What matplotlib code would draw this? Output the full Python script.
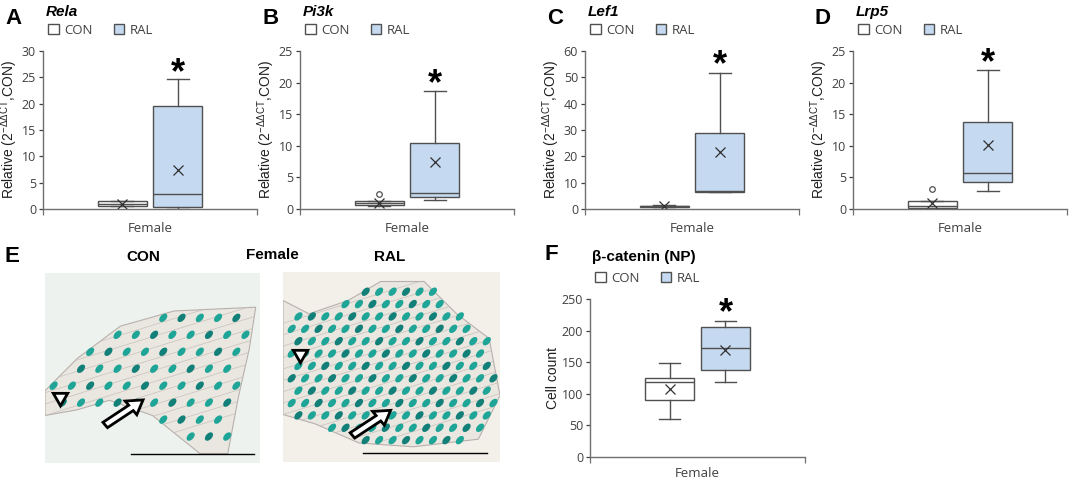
import numpy as np
import matplotlib.pyplot as plt
import matplotlib.transforms as mtrans
from matplotlib.patches import Patch, Polygon, Ellipse, FancyArrow
from matplotlib.path import Path as MPath

W, H = 1072, 483
EDGE = "#505050"
RAL_FILL = "#c5d9f1"
TXT = "#404040"

# box statistics: q1, median, q3, whisker low/high, mean, outliers
groups = ["CON", "RAL"]
panels = ["A", "B", "C", "D"]
genes = ["Rela", "Pi3k", "Lef1", "Lrp5"]
ymax = [30, 25, 60, 25]
ystep = [5, 5, 10, 5]

con_q1 = [0.6, 0.6, 0.7, 0.1]
con_med = [1.0, 0.9, 1.0, 0.4]
con_q3 = [1.5, 1.2, 1.3, 1.3]
con_lo = [0.5, 0.5, 0.6, 0.0]
con_hi = [1.6, 1.2, 1.5, 1.3]
con_mean = [1.0, 1.0, 1.0, 1.0]
con_fliers = [[], [2.3], [], [3.1]]

ral_q1 = [0.3, 1.9, 6.5, 4.2]
ral_med = [2.8, 2.5, 6.7, 5.7]
ral_q3 = [19.5, 10.5, 29.0, 13.8]
ral_lo = [0.0, 1.4, 6.5, 2.8]
ral_hi = [24.6, 18.6, 51.5, 22.0]
ral_mean = [7.5, 7.5, 21.5, 10.2]
star_y = [27.3, 21.0, 57.5, 24.2]

# panel F: beta-catenin cell counts
f_q1 = [90, 137]
f_med = [119, 172]
f_q3 = [125, 205]
f_lo = [60, 119]
f_hi = [148, 215]
f_mean = [108, 170]
f_star = 240

# top row axes left edges in pixels
ax_left = [43, 300, 585, 853]

plt.rcParams["mathtext.fontset"] = "custom"
plt.rcParams["mathtext.rm"] = "Liberation Sans"


def px_axes(x0, y0, x1, y1):
    return fig.add_axes([x0 / W, 1 - y1 / H, (x1 - x0) / W, (y1 - y0) / H])


def ftext(x, y, s, **kw):
    fig.text(x / W, 1 - y / H, s, **kw)


def make_stats(q1, med, q3, lo, hi, mean, fl):
    return dict(q1=q1, med=med, q3=q3, whislo=lo, whishi=hi, mean=mean, fliers=fl)


def draw_box(ax, stats, top, step, star, ylabel, xpad=2):
    bp = ax.bxp(stats, positions=[0.37, 0.63], widths=0.23, patch_artist=True,
                showmeans=True, showfliers=True,
                boxprops=dict(edgecolor=EDGE, linewidth=1.0),
                medianprops=dict(color=EDGE, linewidth=1.0),
                whiskerprops=dict(color=EDGE, linewidth=1.0),
                capprops=dict(color=EDGE, linewidth=1.0),
                meanprops=dict(marker="x", markeredgecolor="#303030", markersize=7, markeredgewidth=0.9),
                flierprops=dict(marker="o", markerfacecolor="white", markeredgecolor=EDGE,
                                markersize=4, markeredgewidth=0.9))
    bp["boxes"][0].set_facecolor("white")
    bp["boxes"][1].set_facecolor(RAL_FILL)
    for c in bp["caps"]:
        m = c.get_xdata().mean()
        c.set_xdata([m - 0.05, m + 0.05])
    ax.set_xlim(0, 1)
    ax.set_ylim(0, top)
    ax.set_yticks(np.arange(0, top + 1, step))
    ax.set_xticks([0, 1])
    ax.set_xticklabels([])
    ax.set_xlabel("Female", fontsize=9.5, color=TXT, family="Open Sans", labelpad=xpad)
    ax.set_ylabel(ylabel, fontsize=10, color="#202020", family="Liberation Sans", labelpad=1)
    ax.tick_params(axis="y", labelsize=9, colors=TXT, length=3, width=0.9, pad=2)
    ax.tick_params(axis="x", length=4, width=0.9, colors="#707070")
    for lab in ax.get_yticklabels():
        lab.set_family("Open Sans")
    for s in ["top", "right"]:
        ax.spines[s].set_visible(False)
    for s in ["left", "bottom"]:
        ax.spines[s].set_color("#707070")
        ax.spines[s].set_linewidth(1.0)
    # the asterisk glyph sits high in its box, so shift it down a little
    off = mtrans.offset_copy(ax.transData, fig=fig, x=0, y=-8, units="dots")
    ax.text(0.63, star, "*", ha="center", va="center", fontsize=26, fontweight="bold",
            family="Liberation Sans", transform=off)
    handles = [Patch(facecolor="white", edgecolor=EDGE, label="CON"),
               Patch(facecolor=RAL_FILL, edgecolor=EDGE, label="RAL")]
    leg = ax.legend(handles=handles, ncol=2, loc="center left", bbox_to_anchor=(-0.03, 1.13),
                    frameon=False, handlelength=0.8, handleheight=0.8, handletextpad=0.4,
                    columnspacing=1.6, prop={"family": "Open Sans", "size": 9.5})
    for t in leg.get_texts():
        t.set_color(TXT)


fig = plt.figure(figsize=(W / 100, H / 100), dpi=100)
ylab = r"Relative (2$^{\mathregular{-ΔΔCT}}$,CON)"

for i in range(4):
    ax = px_axes(ax_left[i], 51, ax_left[i] + 214, 209)
    stats = [make_stats(con_q1[i], con_med[i], con_q3[i], con_lo[i], con_hi[i], con_mean[i], con_fliers[i]),
             make_stats(ral_q1[i], ral_med[i], ral_q3[i], ral_lo[i], ral_hi[i], ral_mean[i], [])]
    draw_box(ax, stats, ymax[i], ystep[i], star_y[i], ylab)
    x0 = ax_left[i]
    ftext(x0 - 38, 18, panels[i], fontsize=16, fontweight="bold", family="Liberation Sans", va="center")
    ftext(x0 + 3, 12, genes[i], fontsize=11, fontweight="bold", style="italic",
          family="Liberation Sans", va="center")

# panel F
axf = px_axes(590, 299, 805, 457)
statsf = [make_stats(f_q1[k], f_med[k], f_q3[k], f_lo[k], f_hi[k], f_mean[k], []) for k in range(2)]
draw_box(axf, statsf, 250, 50, f_star, "Cell count", xpad=0)
ftext(545, 255, "F", fontsize=16, fontweight="bold", family="Liberation Sans", va="center")
ftext(592, 257, "β-catenin (NP)", fontsize=11, fontweight="bold", family="Liberation Sans", va="center")

# panel E: stained sections, drawn schematically
ftext(5, 257, "E", fontsize=16, fontweight="bold", family="Liberation Sans", va="center")
ftext(143, 257, "CON", fontsize=11, fontweight="bold", family="Liberation Sans", va="center", ha="center")
ftext(272, 255, "Female", fontsize=11, fontweight="bold", family="Liberation Sans", va="center", ha="center")
ftext(390, 257, "RAL", fontsize=11, fontweight="bold", family="Liberation Sans", va="center", ha="center")

con_tissue = [(0.0, 0.38), (0.15, 0.55), (0.35, 0.72), (0.6, 0.8), (0.98, 0.82), (0.95, 0.6),
              (0.9, 0.35), (0.85, 0.05), (0.72, 0.05), (0.5, 0.25), (0.3, 0.33), (0.15, 0.28), (0.0, 0.25)]
ral_tissue = [(0.0, 0.85), (0.12, 0.78), (0.3, 0.85), (0.45, 0.95), (0.65, 0.95), (0.8, 0.78),
              (0.95, 0.65), (1.0, 0.35), (0.9, 0.12), (0.6, 0.08), (0.35, 0.1), (0.15, 0.2), (0.0, 0.25)]
con_arrow = (0.28, 0.2)
ral_arrow = (0.32, 0.14)
con_tri = (0.07, 0.35)
ral_tri = (0.08, 0.57)

images = [((45, 273, 260, 463), "#edf2ef", con_tissue, 0.085, con_tri, con_arrow, (0.4, 0.97)),
          ((283, 272, 500, 462), "#f3f0ea", ral_tissue, 0.062, ral_tri, ral_arrow, (0.37, 0.94))]

for box, bg, tissue, sp, tri, arr, bar in images:
    axe = px_axes(*box)
    axe.set_xlim(0, 1)
    axe.set_ylim(0, 1)
    axe.set_facecolor(bg)
    axe.set_xticks([])
    axe.set_yticks([])
    for s in axe.spines.values():
        s.set_visible(False)
    axe.add_patch(Polygon(tissue, closed=True, facecolor="#e9e7df", edgecolor="#b9b0ad", lw=0.8))
    path = MPath(tissue)
    # fibre texture
    for k in range(14):
        yy = 0.1 + k * 0.06
        axe.plot([0.0, 1.0], [yy - 0.15, yy + 0.2], color="#c9c0bd", lw=0.5,
                 clip_path=axe.patches[0], zorder=2)
    # nuclei on a staggered lattice inside the tissue outline
    for j in range(int(1 / sp) + 1):
        for k in range(int(1 / sp) + 1):
            x = 0.04 + k * sp + (sp / 2) * (j % 2)
            y = 0.05 + j * sp * 1.05
            if path.contains_point((x, y)):
                col = "#1ea597" if (j + k) % 3 else "#127f78"
                axe.add_patch(Ellipse((x, y), 0.03, 0.05, angle=-35, facecolor=col,
                                      edgecolor="none", zorder=3))
    axe.plot([tri[0]], [tri[1]], marker=(3, 0, 180), markersize=12, markerfacecolor="white",
             markeredgecolor="black", markeredgewidth=2, zorder=5)
    axe.add_patch(FancyArrow(arr[0], arr[1], 0.12, 0.09, width=0.035, head_width=0.09,
                             head_length=0.07, facecolor="white", edgecolor="black", lw=2, zorder=5))
    axe.plot(bar, [0.05, 0.05], color="black", lw=1.0, zorder=5)

fig.savefig("out.png", dpi=100)
